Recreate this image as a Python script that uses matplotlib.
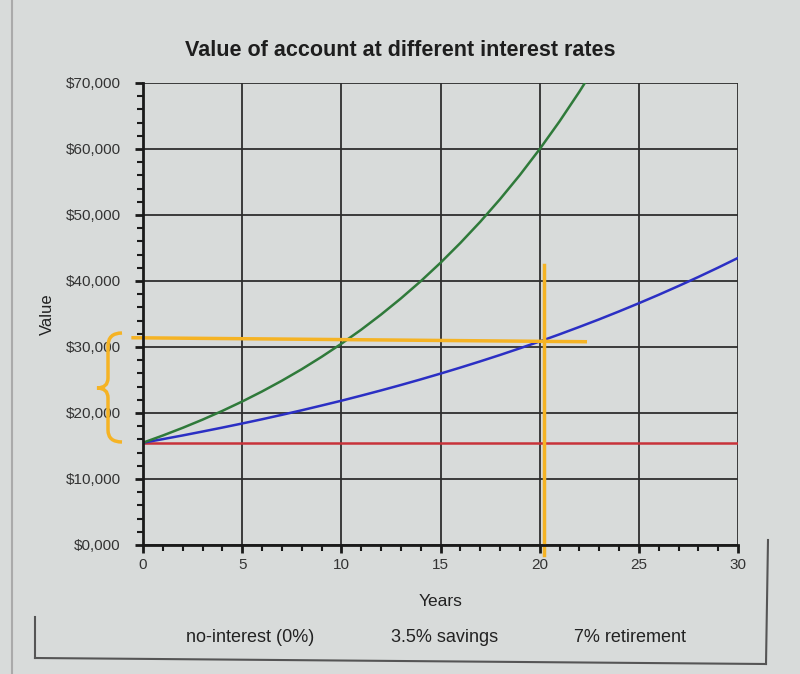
import numpy as np
import matplotlib.pyplot as plt
from matplotlib.path import Path
from matplotlib.patches import PathPatch
from matplotlib.lines import Line2D
from matplotlib.ticker import MultipleLocator, FuncFormatter

plt.rcParams['font.family'] = ['Liberation Sans', 'DejaVu Sans']

# values (dollars, one per year)
years = list(range(0, 31))
no_interest = [15500] * 31
savings = [15500, 16040, 16600, 17190, 17790, 18410, 19050, 19720, 20410, 21130,
           21860, 22630, 23420, 24240, 25090, 25970, 26880, 27820, 28790, 29800,
           30840, 31920, 33040, 34190, 35390, 36630, 37910, 39240, 40610, 42030,
           43500]
green_years = list(range(0, 24))
retirement = [15500, 16590, 17750, 18990, 20320, 21740, 23260, 24890, 26630, 28500,
              30490, 32620, 34910, 37350, 39960, 42760, 45760, 48960, 52390, 56050,
              59980, 64180, 68670, 73480]
legend_labels = ['no-interest (0%)', '3.5% savings', '7% retirement']

# hand drawn orange marks on the photo (data coords)
mark_h_y = 31400
mark_h_x = (-0.5, 22.3)
mark_v_x = 20.2
mark_v_y = (-1500, 42500)

bg = '#d8dbda'
W, H = 800, 674
fig = plt.figure(figsize=(8, 6.74), dpi=100, facecolor=bg)
ax = fig.add_axes([143 / W, 1 - 545 / H, (738 - 143) / W, (545 - 83) / H])
ax.set_facecolor(bg)

ax.plot(years, no_interest, color='#c8323a', lw=1.8)
ax.plot(years, savings, color='#2b2fc4', lw=1.8)
ax.plot(green_years, retirement, color='#2f7a3a', lw=1.8)

ax.set_xlim(0, 30)
ax.set_ylim(0, 70000)
ax.xaxis.set_major_locator(MultipleLocator(5))
ax.xaxis.set_minor_locator(MultipleLocator(1))
ax.yaxis.set_major_locator(MultipleLocator(10000))
ax.yaxis.set_minor_locator(MultipleLocator(2000))
ax.yaxis.set_major_formatter(FuncFormatter(lambda v, p: '${:,.0f}'.format(v) if v else '$0,000'))
ax.grid(True, which='major', color='#2e2e2e', lw=1.3)
ax.set_axisbelow(True)
for s in ['top', 'right']:
    ax.spines[s].set_visible(False)
for s in ['left', 'bottom']:
    ax.spines[s].set_linewidth(2)
    ax.spines[s].set_color('#1a1a1a')
ax.tick_params(which='major', length=6, width=2, color='#1a1a1a', labelsize=11, labelcolor='#333333')
ax.tick_params(axis='y', which='major', pad=10)
ax.tick_params(which='minor', length=4, width=1.5, color='#1a1a1a')

fig.text(400 / W, 1 - 50 / H, 'Value of account at different interest rates', fontsize=15.5,
         fontweight='bold', color='#1e1e1e', ha='center', va='center')
ax.set_xlabel('Years', fontsize=12.5, color='#222222', labelpad=16)
ax.set_ylabel('Value', fontsize=12, color='#222222', labelpad=8)

for x, lab in zip([250, 445, 630], legend_labels):
    fig.text(x / W, 1 - 638 / H, lab, ha='center', va='center', fontsize=13, color='#222222')

# frame of the legend box
frame = '#555555'
fig.add_artist(Line2D([35 / W, 35 / W], [1 - 617 / H, 1 - 658 / H], color=frame, lw=1.5))
fig.add_artist(Line2D([35 / W, 766 / W], [1 - 658 / H, 1 - 664 / H], color=frame, lw=1.5))
fig.add_artist(Line2D([766 / W, 768 / W], [1 - 664 / H, 1 - 540 / H], color=frame, lw=1.5))
fig.add_artist(Line2D([12 / W, 12 / W], [0, 1], color='#aaaaaa', lw=1.5))

# orange annotation
orange = '#f5b324'
ax.plot(mark_h_x, [mark_h_y, mark_h_y - 600], color=orange, lw=2.5, clip_on=False)
ax.plot([mark_v_x, mark_v_x], mark_v_y, color=orange, lw=2.5, clip_on=False)

pts = [(122, 333), (108, 333), (108, 346), (108, 378), (108, 388), (97, 388),
       (108, 388), (108, 398), (108, 430), (108, 442), (122, 442)]
codes = [Path.MOVETO, Path.CURVE3, Path.CURVE3, Path.LINETO, Path.CURVE3, Path.CURVE3,
         Path.CURVE3, Path.CURVE3, Path.LINETO, Path.CURVE3, Path.CURVE3]
brace = Path([(x / W, 1 - y / H) for x, y in pts], codes)
fig.add_artist(PathPatch(brace, transform=fig.transFigure, fill=False,
                         edgecolor=orange, lw=2.5))

fig.savefig('out.png', dpi=100, facecolor=bg)
